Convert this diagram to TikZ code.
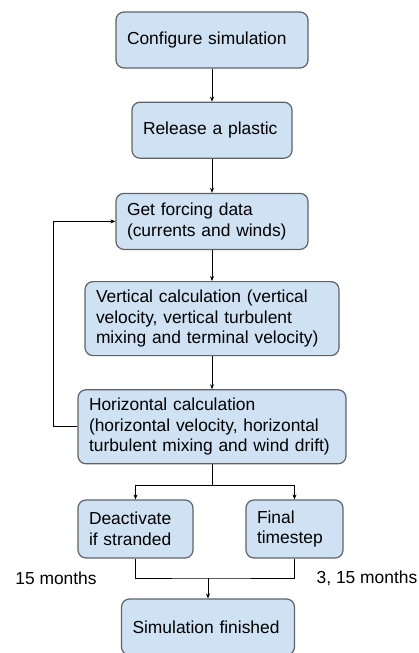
\documentclass[tikz,border=0pt]{standalone}
\usepackage{fontspec}
\setmainfont{Liberation Sans}
\usepackage{tikz}
\usetikzlibrary{arrows.meta, positioning}
\definecolor{boxfill}{HTML}{CFE2F3}
\definecolor{boxline}{HTML}{5F6368}

\begin{document}
\begin{tikzpicture}[x=1pt, y=1pt, >={Stealth[length=5pt, width=4pt]}]
    \tikzstyle{box}=[draw=boxline, fill=boxfill, line width=1.2pt, rounded corners=8pt,
        align=left, inner xsep=11pt, inner ysep=4pt, minimum height=56pt,
        font=\fontsize{17.4}{20.5}\selectfont]
    \tikzstyle{note}=[font=\fontsize{17.4}{20.5}\selectfont, inner sep=0pt]
    \tikzstyle{line}=[line width=0.9pt, black]

    \useasboundingbox (0,0) rectangle (418,-653);

    \node[box, text width=170pt] (conf) at (212,-40) {Configure simulation};
    \node[box, text width=138pt, below=33pt of conf] (rel) {Release a plastic};
    \node[box, text width=170pt, below=34pt of rel] (forc) {Get forcing data\\(currents and winds)};
    \node[box, text width=232pt, minimum height=74pt, below=31pt of forc] (vert)
        {Vertical calculation (vertical\\velocity, vertical turbulent\\mixing and terminal velocity)};
    \node[box, text width=246pt, minimum height=74pt, below=33pt of vert] (horiz)
        {Horizontal calculation\\(horizontal velocity, horizontal\\turbulent mixing and wind drift)};
    \node[box, text width=93pt, minimum height=58pt] (strand) at (135.5,-529) {Deactivate\\if stranded};
    \node[box, text width=75pt, minimum height=58pt] (final) at (294.5,-529) {Final\\timestep};
    \node[box, text width=151pt] (fin) at (208,-627) {Simulation finished};

    \node[note] (m15) at (56,-578) {15 months};
    \node[note] (m315) at (367,-578) {3, 15 months};

    \draw[line, ->] (conf) -- (rel);
    \draw[line, ->] (rel) -- (forc);
    \draw[line, ->] (forc) -- (vert);
    \draw[line, ->] (vert) -- (horiz);
    \draw[line, ->] (horiz.west) -- ++(-24,0) |- (forc.west);

    \draw[line] (horiz.south) -- ++(0,-21) coordinate (split);
    \draw[line, ->] (split) -| (strand);
    \draw[line, ->] (split) -| (final);

    \coordinate (join) at (208,-578);
    \draw[line] (strand.south) |- (join) -| (final.south);
    \draw[line, ->] (join) -- (fin);
\end{tikzpicture}
\end{document}
